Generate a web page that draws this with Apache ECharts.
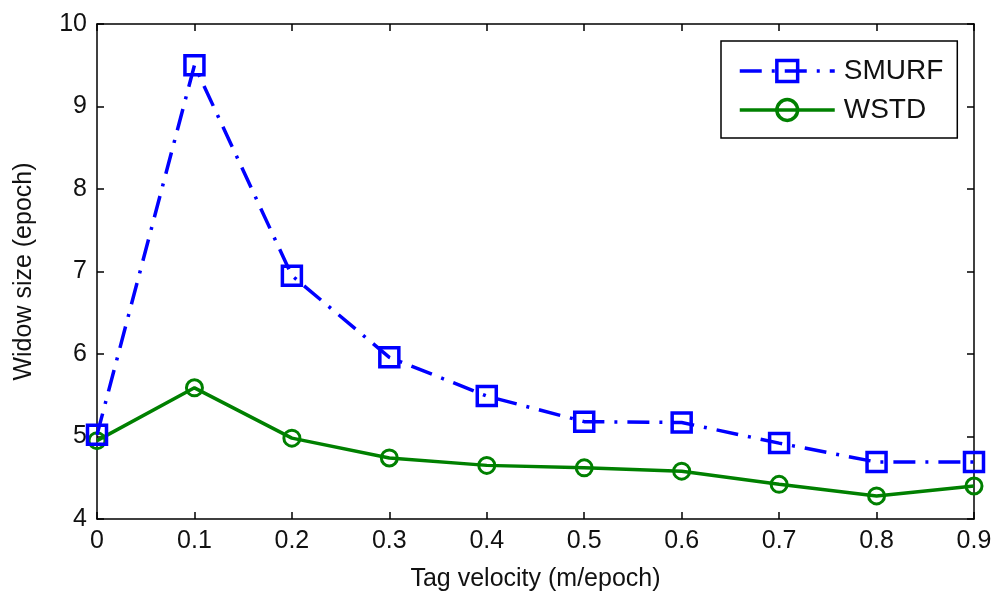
<!DOCTYPE html>
<html>
<head>
<meta charset="utf-8">
<script src="https://cdn.jsdelivr.net/npm/echarts@6/dist/echarts.min.js"></script>
<style>
  html, body { margin: 0; padding: 0; background: #fff; }
  #chart { width: 1000px; height: 607px; }
</style>
</head>
<body>
<div id="chart"></div>
<script>
// data
var velocity = [0, 0.1, 0.2, 0.3, 0.4, 0.5, 0.6, 0.7, 0.8, 0.9];
var smurf = [5.02, 9.5, 6.95, 5.96, 5.49, 5.18, 5.17, 4.92, 4.69, 4.69];
var wstd = [4.95, 5.59, 4.98, 4.74, 4.65, 4.62, 4.58, 4.42, 4.28, 4.4];

function pairs(xs, ys) {
  return xs.map(function (x, i) { return [x, ys[i]]; });
}

var chart = echarts.init(document.getElementById('chart'));

var font = 'Liberation Sans, Arial, sans-serif';
var axisLine = { show: true, onZero: false, lineStyle: { color: '#000', width: 1.5 } };
var tick = { show: true, inside: true, length: 7, lineStyle: { color: '#000', width: 1.5 } };

var option = {
  animation: false,
  backgroundColor: '#fff',
  grid: { left: 97, right: 26, top: 24, bottom: 88 },
  legend: {
    orient: 'vertical',
    left: 721,
    top: 41,
    padding: [16, 14, 14, 17],
    itemGap: 11,
    itemWidth: 95,
    itemHeight: 26,
    backgroundColor: '#fff',
    borderColor: '#000',
    borderWidth: 1.5,
    borderRadius: 0,
    itemStyle: { borderWidth: 3.5 },
    lineStyle: { width: 3.5 },
    textStyle: { fontFamily: font, fontSize: 28, color: '#111', padding: [0, 0, 0, 4] },
    data: ['SMURF', 'WSTD']
  },
  xAxis: [
    {
      type: 'value',
      min: 0,
      max: 0.9,
      interval: 0.1,
      name: 'Tag velocity (m/epoch)',
      nameLocation: 'middle',
      nameGap: 48,
      nameTextStyle: { fontFamily: font, fontSize: 25, color: '#111' },
      axisLine: axisLine,
      axisTick: tick,
      axisLabel: { fontFamily: font, fontSize: 25, color: '#111', margin: 10 },
      splitLine: { show: false }
    },
    {
      type: 'value',
      position: 'top',
      min: 0,
      max: 0.9,
      interval: 0.1,
      axisLine: axisLine,
      axisTick: tick,
      axisLabel: { show: false },
      splitLine: { show: false }
    }
  ],
  yAxis: [
    {
      type: 'value',
      min: 4,
      max: 10,
      interval: 1,
      name: 'Widow size (epoch)',
      nameLocation: 'middle',
      nameGap: 60,
      nameTextStyle: { fontFamily: font, fontSize: 25, color: '#111' },
      axisLine: axisLine,
      axisTick: tick,
      axisLabel: { fontFamily: font, fontSize: 25, color: '#111', margin: 10 },
      splitLine: { show: false }
    },
    {
      type: 'value',
      position: 'right',
      min: 4,
      max: 10,
      interval: 1,
      axisLine: axisLine,
      axisTick: tick,
      axisLabel: { show: false },
      splitLine: { show: false }
    }
  ],
  series: [
    {
      name: 'SMURF',
      type: 'line',
      data: pairs(velocity, smurf),
      color: '#0000ff',
      symbol: 'rect',
      symbolSize: 19,
      lineStyle: { color: '#0000ff', width: 3.5, type: [22, 10, 3, 10] },
      itemStyle: { color: 'rgba(255,255,255,0)', borderColor: '#0000ff', borderWidth: 3.5 },
      z: 3
    },
    {
      name: 'WSTD',
      type: 'line',
      data: pairs(velocity, wstd),
      color: '#008000',
      symbol: 'circle',
      symbolSize: 16,
      lineStyle: { color: '#008000', width: 3.5 },
      itemStyle: { color: 'rgba(255,255,255,0)', borderColor: '#008000', borderWidth: 3 },
      z: 2
    }
  ]
};

chart.setOption(option);
</script>
</body>
</html>
